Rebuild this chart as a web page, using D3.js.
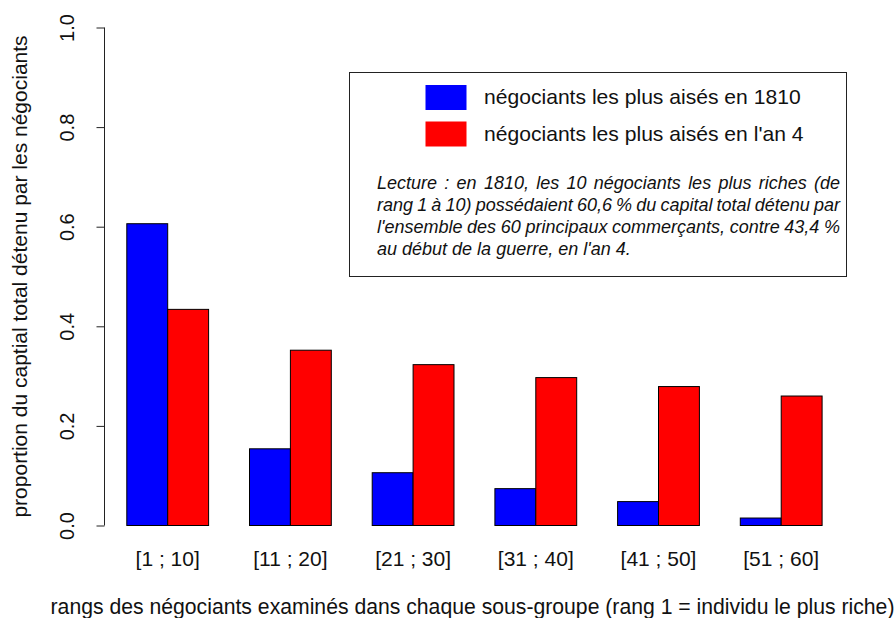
<!DOCTYPE html>
<html><head><meta charset="utf-8">
<script src="https://cdn.jsdelivr.net/npm/d3@7"></script>
<style>body{margin:0;background:#fff}svg{display:block}text{font-family:"Liberation Sans",Arial,sans-serif}</style>
</head><body>
<script>
const categories = ["[1 ; 10]","[11 ; 20]","[21 ; 30]","[31 ; 40]","[41 ; 50]","[51 ; 60]"];
const series = ["négociants les plus aisés en 1810","négociants les plus aisés en l'an 4"];
const values1810 = [0.606,0.154,0.106,0.074,0.048,0.015];
const valuesAn4 = [0.434,0.352,0.323,0.297,0.279,0.260];
const colors = ["#0000FF","#FF0000"];
const yTicks = [0,0.2,0.4,0.6,0.8,1.0];
const yTitle = "proportion du captial total détenu par les négociants";
const xTitle = "rangs des négociants examinés dans chaque sous-groupe (rang 1 = individu le plus riche)";
const noteLines = ["Lecture : en 1810, les 10 négociants les plus riches (de",
 "rang 1 à 10) possédaient 60,6 % du capital total détenu par",
 "l'ensemble des 60 principaux commerçants, contre 43,4 %",
 "au début de la guerre, en l'an 4."];

const W=896,H=618;
const svg=d3.select("body").append("svg").attr("width",W).attr("height",H);
const x=d3.scaleLinear().domain([1,19]).range([126.8,126.8+18*40.9]);
const y=d3.scaleLinear().domain([0,1]).range([525.5,27.5]);

const g=svg.append("g");
const data=[values1810,valuesAn4];
categories.forEach((c,i)=>{
  data.forEach((vals,s)=>{
    const u0=3*i+1+s;
    g.append("rect").attr("x",x(u0)).attr("y",y(vals[i]))
     .attr("width",x(u0+1)-x(u0)).attr("height",y(0)-y(vals[i]))
     .attr("fill",colors[s]).attr("stroke","#000").attr("stroke-width",1);
  });
  svg.append("text").attr("x",(x(3*i+1)+x(3*i+3))/2).attr("y",565.5)
    .attr("text-anchor","middle").attr("font-size",21).attr("fill","#111").text(c);
});

// y axis
const ax=svg.append("g").attr("transform","translate(104.5,0)")
  .call(d3.axisLeft(y).tickValues(yTicks).tickFormat(d3.format(".1f")).tickSize(8).tickPadding(0));
ax.select(".domain").attr("stroke","#222").attr("d",`M0,${y(0)}V${y(1)}`);
ax.selectAll(".tick line").attr("stroke","#222");
ax.selectAll(".tick").each(function(d){
  d3.select(this).select("text").remove();
  d3.select(this).append("text").attr("transform","translate(-31,0) rotate(-90)")
    .attr("text-anchor","middle").attr("font-size",20).attr("fill","#111")
    .attr("font-family",'"Liberation Sans",Arial,sans-serif').text(d3.format(".1f")(d));
});

// titles
svg.append("text").attr("transform",`translate(27,${(y(0)+y(1))/2}) rotate(-90)`)
  .attr("text-anchor","middle").attr("font-size",21).attr("fill","#111").text(yTitle);
svg.append("text").attr("x",472.5).attr("y",614)
  .attr("text-anchor","middle").attr("font-size",21.2).attr("fill","#111").text(xTitle);

// legend
const L={x0:349.5,y0:72.5,x1:846.5,y1:276.5};
svg.append("rect").attr("x",L.x0).attr("y",L.y0).attr("width",L.x1-L.x0).attr("height",L.y1-L.y0)
  .attr("fill","#fff").attr("stroke","#222").attr("stroke-width",1);
series.forEach((s,i)=>{
  const cy=97.5+i*36.5;
  svg.append("rect").attr("x",425.5).attr("y",cy-12.5).attr("width",41).attr("height",25).attr("fill",colors[i]);
  svg.append("text").attr("x",484).attr("y",cy+6.5).attr("font-size",21.1).attr("fill","#111").text(s);
});
// justified note
const nx0=377,nx1=840,fs=18;
noteLines.forEach((line,li)=>{
  const yy=189+li*22;
  const words=line.split(" ");
  const tmp=svg.append("g");
  const widths=words.map(w=>{
    const t=tmp.append("text").attr("font-size",fs).attr("font-style","italic").text(w);
    return t.node().getComputedTextLength();
  });
  tmp.remove();
  const total=d3.sum(widths);
  const gap = li<noteLines.length-1 ? (nx1-nx0-total)/(words.length-1) : fs*0.278;
  let cx=nx0;
  words.forEach((w,k)=>{
    svg.append("text").attr("x",cx).attr("y",yy).attr("font-size",fs).attr("font-style","italic")
      .attr("fill","#111").text(w);
    cx+=widths[k]+gap;
  });
});
</script>
</body></html>
